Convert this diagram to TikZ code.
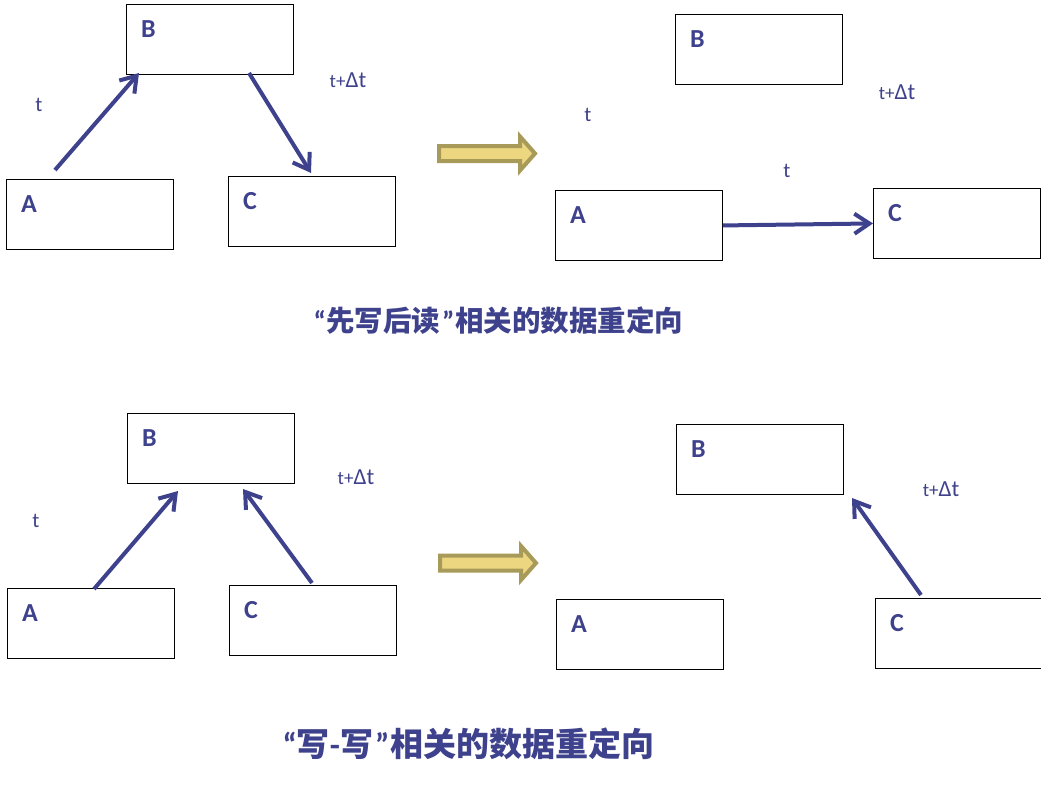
\documentclass[tikz,border=0pt]{standalone}
\usepackage{fontspec}
\setmainfont{Carlito}
\newfontfamily\cjk{Noto Sans CJK SC}
\usetikzlibrary{arrows.meta,calc}
\definecolor{navy}{RGB}{62,65,140}
\definecolor{arrfill}{RGB}{236,214,128}
\definecolor{arrline}{RGB}{168,155,90}
\newcommand\tdt{{\fontsize{19}{19}\selectfont t+}{\fontsize{23}{23}\selectfont Δt}}
\newcommand\myLQ[1]{{\fontsize{#1}{#1}\selectfont\rmfamily\bfseries “}}
\newcommand\myRQ[1]{{\fontsize{#1}{#1}\selectfont\rmfamily\bfseries\hspace{2pt}”\hspace{1pt}}}
\begin{document}
\begin{tikzpicture}[x=1pt,y=-1pt,
  box/.style={draw=black, line width=0.9pt, minimum width=167pt, minimum height=70pt, anchor=north west, inner sep=0pt},
  letter/.style={text=navy, font=\fontsize{26}{26}\selectfont\bfseries, anchor=north west, inner sep=0pt},
  tlbl/.style={text=navy, font=\fontsize{21}{21}\selectfont, inner sep=0pt},
  captxt/.style={text=navy, font=\cjk\bfseries, inner sep=0pt},
  conn/.style={draw=navy, line width=4pt, -{Straight Barb[length=15pt,width=20pt]}},
  blockarr/.pic={\draw[draw=arrline, fill=arrfill, line width=4pt, line join=miter]
     (0,-7.5) -- (81,-7.5) -- (81,-17) -- (96,0) -- (81,17) -- (81,7.5) -- (0,7.5) -- cycle;}
]
\useasboundingbox (0,0) rectangle (1041,793);
\clip (0,0) rectangle (1041,793);
\fill[white] (0,0) rectangle (1041,793);

% ---------- top left ----------
\node[box] (A1) at (6,179) {};
\node[box] (B1) at (126,4) {};
\node[box] (C1) at (228,176) {};
\node[letter] (A1l) at ($(A1.north west)+(15,16)$) {A};
\node[letter] (B1l) at ($(B1.north west)+(15,16)$) {B};
\node[letter] (C1l) at ($(C1.north west)+(15,16)$) {C};
\draw[conn] ($(A1.north west)+(49,-9)$) -- ($(B1.north west)+(13,69)$);
\draw[conn] ($(B1.north west)+(123,69)$) -- ($(C1.north west)+(83,-3)$);
\node[tlbl] (t1) at (39,105) {t};
\node[tlbl] (td1) at (348,80) {\tdt};

\pic at (439,153.5) {blockarr};

% ---------- top right ----------
\node[box] (A2) at (555,190) {};
\node[box] (B2) at (675,14) {};
\node[box] (C2) at (873,188) {};
\node[letter] (A2l) at ($(A2.north west)+(15,16)$) {A};
\node[letter] (B2l) at ($(B2.north west)+(15,16)$) {B};
\node[letter] (C2l) at ($(C2.north west)+(15,16)$) {C};
\draw[conn] (A2.east) -- (C2.west);
\node[tlbl] (t2) at (588,115) {t};
\node[tlbl] (t3) at (787,171) {t};
\node[tlbl] (td2) at (897,92) {\tdt};

\node[captxt, font=\cjk\bfseries\fontsize{28.5}{28.5}\selectfont] (cap1) at (498.5,321) {\myLQ{28.5}先写后读\myRQ{28.5}相关的数据重定向};

% ---------- bottom left ----------
\node[box] (A3) at (7,588) {};
\node[box] (B3) at (127,413) {};
\node[box] (C3) at (229,585) {};
\node[letter] (A3l) at ($(A3.north west)+(15,16)$) {A};
\node[letter] (B3l) at ($(B3.north west)+(15,16)$) {B};
\node[letter] (C3l) at ($(C3.north west)+(15,16)$) {C};
\draw[conn] ($(A3.north west)+(87,1)$) -- ($(B3.north west)+(51,78)$);
\draw[conn] ($(C3.north west)+(83,-2)$) -- ($(B3.north west)+(116,76)$);
\node[tlbl] (t4) at (36,521) {t};
\node[tlbl] (td3) at (356,477) {\tdt};

\pic at (440,563) {blockarr};

% ---------- bottom right ----------
\node[box] (A4) at (556,599) {};
\node[box] (B4) at (676,424) {};
\node[box] (C4) at (875,598) {};
\node[letter] (A4l) at ($(A4.north west)+(15,16)$) {A};
\node[letter] (B4l) at ($(B4.north west)+(15,16)$) {B};
\node[letter] (C4l) at ($(C4.north west)+(15,16)$) {C};
\draw[conn] ($(C4.north west)+(46,-3)$) -- ($(B4.north west)+(176,74)$);
\node[tlbl] (td4) at (941,489) {\tdt};

\node[captxt, font=\cjk\bfseries\fontsize{33}{33}\selectfont] (cap2) at (468.5,744) {\myLQ{33}写{\rmfamily\bfseries -}写\myRQ{33}相关的数据重定向};
\end{tikzpicture}
\end{document}
